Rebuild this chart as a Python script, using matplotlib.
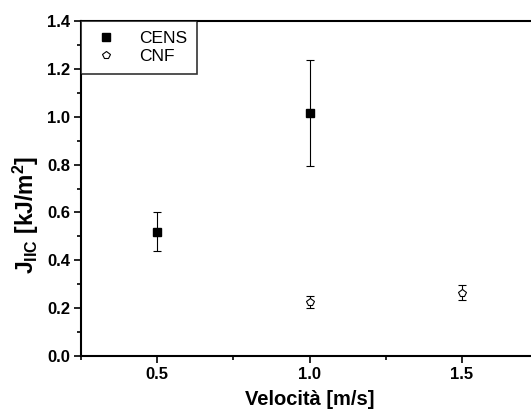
import matplotlib
matplotlib.use("Agg")
import matplotlib.pyplot as plt
from matplotlib.ticker import MultipleLocator

plt.rcParams["font.family"] = ["Liberation Sans", "DejaVu Sans"]
plt.rcParams["font.weight"] = "bold"
plt.rcParams["mathtext.fontset"] = "custom"
plt.rcParams["mathtext.bf"] = "Liberation Sans:bold"
plt.rcParams["mathtext.rm"] = "Liberation Sans"

# Data
cens_x = [0.5, 1.0]
cens_y = [0.52, 1.015]
cens_err = [0.083, 0.222]

cnf_x = [1.0, 1.5]
cnf_y = [0.225, 0.265]
cnf_err = [0.025, 0.03]

fig = plt.figure(figsize=(5.31, 4.17), dpi=100)
ax = fig.add_axes([81 / 531, 61 / 417, 457 / 531, 335 / 417])

ax.errorbar(cens_x, cens_y, yerr=cens_err, fmt="s", color="black",
            markersize=6, ecolor="black", elinewidth=0.8, capsize=3,
            capthick=0.8, label="CENS")
ax.errorbar(cnf_x, cnf_y, yerr=cnf_err, fmt="p", color="black",
            markerfacecolor="white", markersize=6, markeredgewidth=0.8,
            ecolor="black", elinewidth=0.8, capsize=3, capthick=0.8,
            label="CNF")

ax.set_xlim(0.25, 1.75)
ax.set_ylim(0.0, 1.4)
ax.xaxis.set_major_locator(MultipleLocator(0.5))
ax.xaxis.set_minor_locator(MultipleLocator(0.25))
ax.yaxis.set_major_locator(MultipleLocator(0.2))
ax.yaxis.set_minor_locator(MultipleLocator(0.1))
ax.xaxis.set_major_formatter(plt.FormatStrFormatter("%.1f"))
ax.yaxis.set_major_formatter(plt.FormatStrFormatter("%.1f"))
ax.tick_params(which="both", direction="out", width=1.2, labelsize=12)
ax.tick_params(which="major", length=5, pad=3)
ax.tick_params(which="minor", length=3)
for sp in ax.spines.values():
    sp.set_linewidth(1.5)

ax.set_xlabel("Velocità [m/s]", fontsize=14.5, fontweight="bold", labelpad=6)
ax.set_ylabel(r"J$_{\mathbf{IIC}}$ [kJ/m$^{\mathbf{2}}$]", fontsize=16.5,
              fontweight="bold")
ax.yaxis.set_label_coords(-0.088, 0.42)

handles, labels = ax.get_legend_handles_labels()
handles = [h[0] for h in handles]
leg = ax.legend(handles, labels, loc="upper left", frameon=True,
                fancybox=False, borderaxespad=0.0, handlelength=1.8,
                handletextpad=1.0, borderpad=0.55, labelspacing=0.2,
                prop={"weight": "normal", "size": 12.5})
leg.get_frame().set_edgecolor("black")
leg.get_frame().set_linewidth(1.2)
leg._legend_box.align = "left"

fig.savefig("out.png", dpi=100)
